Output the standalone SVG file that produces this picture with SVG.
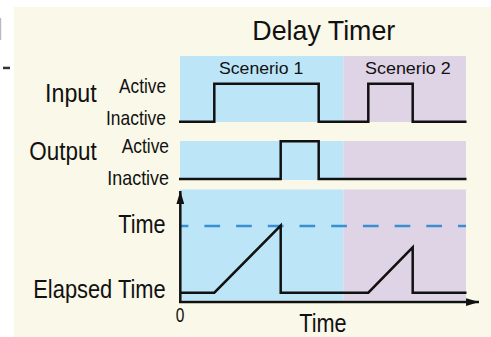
<svg xmlns="http://www.w3.org/2000/svg" width="491" height="337" viewBox="0 0 491 337">
<style>
text{font-family:"Liberation Sans",Arial,sans-serif;fill:#111;}
.wave{fill:none;stroke:#111;stroke-width:2.5;stroke-linejoin:miter;}
.blue{fill:#BDE5F8;}
.purple{fill:#DFD3E6;}
.lab{font-size:21px;text-anchor:end;}
.big{font-size:25px;}
</style>
<defs>
<marker id="arr" viewBox="0 0 10 6" refX="10" refY="3" markerWidth="5.2" markerHeight="3.1" orient="auto" markerUnits="strokeWidth">
<path d="M0,0 L10,3 L0,6 Z" fill="#111"/>
</marker>
</defs>
<rect x="0" y="0" width="491" height="337" fill="#ffffff"/>
<rect x="14" y="7" width="477" height="330" fill="#FAF8E8"/>
<rect x="3" y="66.7" width="7" height="2.5" fill="#333"/>
<rect x="0" y="18" width="1.2" height="22" fill="#bbb"/>

<g id="title"><text x="252.3" y="39.5" font-size="28" textLength="143" lengthAdjust="spacingAndGlyphs">Delay Timer</text></g>

<g id="panels">
<rect class="blue" x="180" y="56" width="163.5" height="66"/>
<rect class="purple" x="343.5" y="56" width="122.5" height="66"/>
<rect class="blue" x="180" y="141" width="163.5" height="39"/>
<rect class="purple" x="343.5" y="141" width="122.5" height="39"/>
<rect class="blue" x="180" y="189.5" width="163.5" height="111"/>
<rect class="purple" x="343.5" y="189.5" width="122.5" height="111"/>
</g>

<g id="scenario1"><text x="219" y="74.3" font-size="17" textLength="84.3" lengthAdjust="spacingAndGlyphs">Scenerio 1</text></g>
<g id="scenario2"><text x="365" y="74.3" font-size="17" textLength="85.7" lengthAdjust="spacingAndGlyphs">Scenerio 2</text></g>

<g id="input-labels">
<text class="big" x="45" y="102" font-size="24" textLength="51.7" lengthAdjust="spacingAndGlyphs">Input</text>
<text class="lab" x="166" y="92.7" textLength="47" lengthAdjust="spacingAndGlyphs">Active</text>
<text class="lab" x="166" y="125" textLength="60" lengthAdjust="spacingAndGlyphs">Inactive</text>
</g>
<g id="output-labels">
<text class="big" x="29.3" y="159.5" font-size="24" textLength="67.4" lengthAdjust="spacingAndGlyphs">Output</text>
<text class="lab" x="169" y="152.7" textLength="47.3" lengthAdjust="spacingAndGlyphs">Active</text>
<text class="lab" x="169" y="185" textLength="61.7" lengthAdjust="spacingAndGlyphs">Inactive</text>
</g>
<g id="time-labels">
<text class="big" x="118.3" y="233.3" textLength="47.4" lengthAdjust="spacingAndGlyphs">Time</text>
<text class="big" x="33.3" y="298.3" textLength="132.4" lengthAdjust="spacingAndGlyphs">Elapsed Time</text>
<text x="175.7" y="321.7" font-size="20" textLength="8.6" lengthAdjust="spacingAndGlyphs">0</text>
<text class="big" x="299.3" y="331.7" textLength="47.4" lengthAdjust="spacingAndGlyphs">Time</text>
</g>

<g id="connectors">
<path class="wave" d="M179,121.7 H214.3 V83.7 H318.7 V121.7 H368.3 V83.7 H412.7 V121.7 H466.5"/>
<path class="wave" d="M179,179 H280.7 V141.3 H318.7 V179 H466.5"/>
<line x1="180" y1="226" x2="466" y2="226" stroke="#3A8FD2" stroke-width="2.5" stroke-dasharray="15.7 16" stroke-dashoffset="7.3"/>
<path class="wave" d="M180,292.7 H214.3 L280.7,225.5 V292.7 H368.3 L412.7,247.3 V292.7 H466.5"/>
<line x1="180.3" y1="302" x2="180.3" y2="191" stroke="#111" stroke-width="2.5" marker-end="url(#arr)"/>
<line x1="179" y1="302" x2="479" y2="302" stroke="#111" stroke-width="2.5" marker-end="url(#arr)"/>
</g>
</svg>
